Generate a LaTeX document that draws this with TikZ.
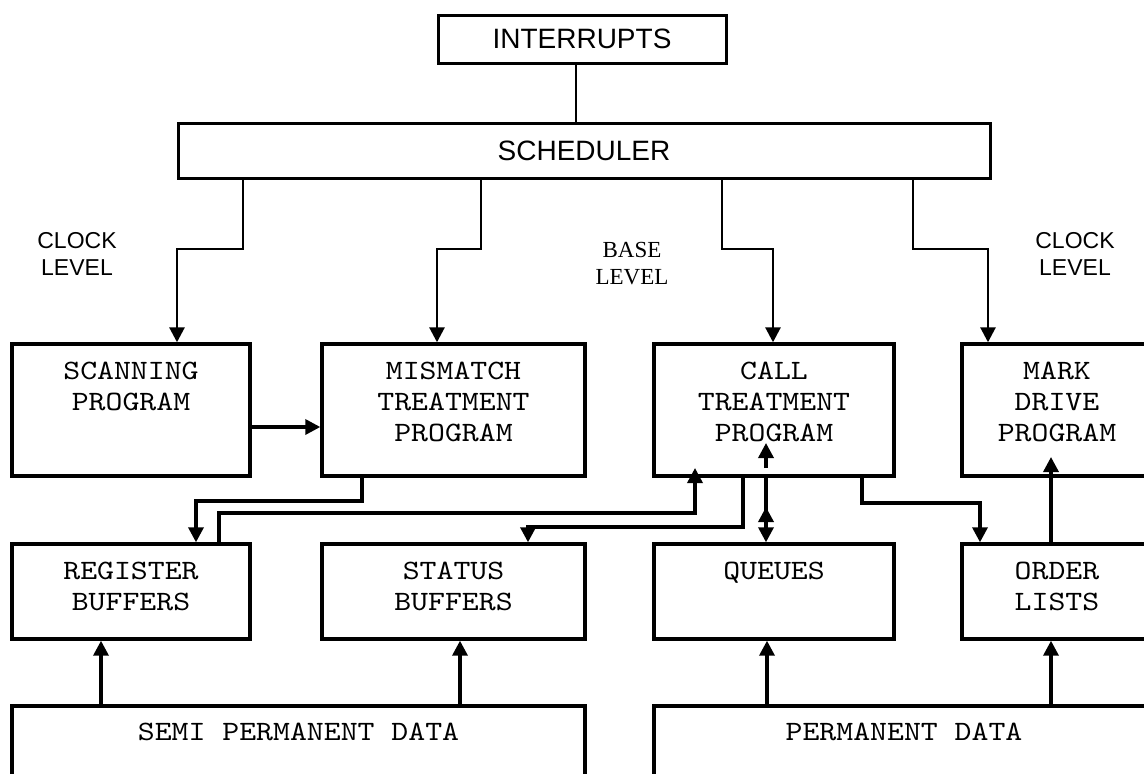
\documentclass[tikz,border=0pt]{standalone}
\usepackage{fontspec}
\setmainfont{Liberation Serif}
\setsansfont{Liberation Sans}
\setmonofont{lmmono10-regular.otf}[FakeStretch=1.15]
\usetikzlibrary{arrows.meta,calc}
\begin{document}
\begin{tikzpicture}[x=1pt,y=-1pt,
  box/.style={draw,line width=3.4pt,inner sep=0pt},
  topbox/.style={draw,line width=3pt,inner sep=0pt,font=\sffamily\fontsize{28}{32}\selectfont},
  mtext/.style={font=\ttfamily\fontsize{28}{31}\selectfont,align=center,inner sep=0pt,anchor=north},
  stext/.style={font=\sffamily\fontsize{23}{27}\selectfont,align=center,inner sep=0pt,anchor=north},
  rtext/.style={font=\rmfamily\fontsize{23}{27}\selectfont,align=center,inner sep=0pt,anchor=north},
  arr/.style={-{Triangle[length=15pt,width=15pt]}},
  conn/.style={line width=3.4pt,arr},
  branch/.style={line width=2.8pt,arr},
]
\useasboundingbox (0,0) rectangle (1144,774);
\clip (0,0) rectangle (1144,774);

% top boxes
\node[topbox,minimum width=288pt,minimum height=48pt] (intr) at (582,39) {INTERRUPTS};
\node[topbox,minimum width=812pt,minimum height=55pt] (sched) at (584,150.5) {SCHEDULER};

% program boxes
\node[box,minimum width=238pt,minimum height=132pt] (scan) at (131,410) {};
\node[box,minimum width=263pt,minimum height=132pt] (mism) at (453.5,410) {};
\node[box,minimum width=240pt,minimum height=132pt] (call) at (774,410) {};
\node[box,minimum width=190pt,minimum height=132pt] (mark) at (1057,410) {};

% buffer boxes
\node[box,minimum width=238pt,minimum height=95pt] (reg) at (131,591.5) {};
\node[box,minimum width=263pt,minimum height=95pt] (stat) at (453.5,591.5) {};
\node[box,minimum width=240pt,minimum height=95pt] (queu) at (774,591.5) {};
\node[box,minimum width=190pt,minimum height=95pt] (ordr) at (1057,591.5) {};

% data boxes
\node[box,minimum width=573pt,minimum height=110pt] (semi) at (298.5,761) {};
\node[box,minimum width=500pt,minimum height=110pt] (perm) at (904,761) {};

% texts
\node[mtext] at ($(scan.north)+(0,20)$) {SCANNING\\PROGRAM};
\node[mtext] at ($(mism.north)+(0,20)$) {MISMATCH\\TREATMENT\\PROGRAM};
\node[mtext] at ($(call.north)+(0,20)$) {CALL\\TREATMENT\\PROGRAM};
\node[mtext] at ($(mark.north)+(0,20)$) {MARK\\DRIVE\\PROGRAM};
\node[mtext] at ($(reg.north)+(0,20)$) {REGISTER\\BUFFERS};
\node[mtext] at ($(stat.north)+(0,20)$) {STATUS\\BUFFERS};
\node[mtext] at ($(queu.north)+(0,20)$) {QUEUES};
\node[mtext] at ($(ordr.north)+(0,20)$) {ORDER\\LISTS};
\node[mtext] at ($(semi.north)+(0,19)$) {SEMI PERMANENT DATA};
\node[mtext] at ($(perm.north)+(0,19)$) {PERMANENT DATA};

\node[stext] (clk1) at (77,232) {CLOCK\\LEVEL};
\node[stext] (clk2) at (1075,232) {CLOCK\\LEVEL};
\node[rtext] (base) at (632,242) {BASE\\LEVEL};

% interrupts to scheduler
\coordinate (ix) at (576,0);
\draw[line width=2.4pt] (intr.south -| ix) -- (sched.north -| ix);

% scheduler branches
\coordinate (b1) at (243,249); \coordinate (e1) at (177,249);
\coordinate (b2) at (481,249); \coordinate (e2) at (437,249);
\coordinate (b3) at (722,249); \coordinate (e3) at (773,249);
\coordinate (b4) at (913,249); \coordinate (e4) at (988,249);
\draw[branch] (sched.south -| b1) -- (b1) -- (e1) -- (e1 |- scan.north);
\draw[branch] (sched.south -| b2) -- (b2) -- (e2) -- (e2 |- mism.north);
\draw[branch] (sched.south -| b3) -- (b3) -- (e3) -- (e3 |- call.north);
\draw[branch] (sched.south -| b4) -- (b4) -- (e4) -- (e4 |- mark.north);

% scanning -> mismatch
\coordinate (a1) at (0,427);
\draw[conn] (scan.east |- a1) -- (mism.west |- a1);

% mismatch -> register
\coordinate (m1) at (362,501); \coordinate (m2) at (196,501);
\draw[conn] (mism.south -| m1) -- (m1) -- (m2) -- (m2 |- reg.north);

% register -> call
\coordinate (r1) at (219,513); \coordinate (r2) at (695,513); \coordinate (r3) at (695,468);
\draw[conn] (reg.north -| r1) -- (r1) -- (r2) -- (r3);

% call -> status
\coordinate (c1) at (743,527); \coordinate (c2) at (528,527);
\draw[conn] (call.south -| c1) -- (c1) -- (c2) -- (c2 |- stat.north);

% call <-> queues
\coordinate (q0) at (766,0);
\coordinate (q2) at (766,523); \coordinate (q3) at (766,507);
\coordinate (q4) at (766,468); \coordinate (q5) at (766,443);
\draw[conn] (call.south -| q0) -- (queu.north -| q0);
\draw[conn] (q2) -- (q3);
\draw[conn] (q4) -- (q5);

% call -> order lists
\coordinate (o1) at (862,503); \coordinate (o2) at (980,503);
\draw[conn] (call.south -| o1) -- (o1) -- (o2) -- (o2 |- ordr.north);

% order lists -> mark drive
\coordinate (om) at (1051,457);
\draw[conn] (ordr.north -| om) -- (om);

% data -> buffers
\coordinate (p1) at (101,0); \coordinate (p2) at (460,0);
\coordinate (p3) at (767,0); \coordinate (p4) at (1051,0);
\draw[conn] (semi.north -| p1) -- (reg.south -| p1);
\draw[conn] (semi.north -| p2) -- (stat.south -| p2);
\draw[conn] (perm.north -| p3) -- (queu.south -| p3);
\draw[conn] (perm.north -| p4) -- (ordr.south -| p4);
\end{tikzpicture}
\end{document}
